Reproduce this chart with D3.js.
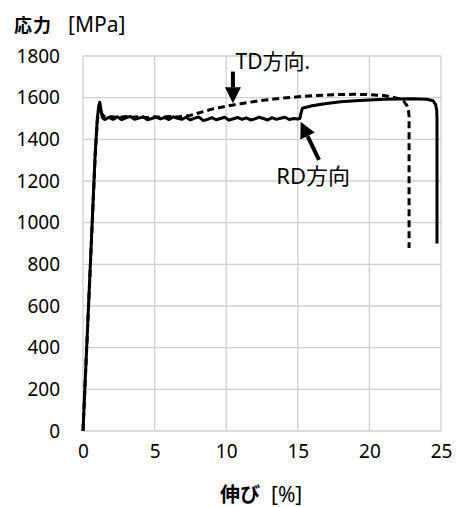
<!DOCTYPE html>
<html><head><meta charset="utf-8">
<script src="https://cdn.jsdelivr.net/npm/d3@7"></script>
<style>
html,body{margin:0;padding:0;background:#fff;}
svg{display:block;font-family:"Noto Sans","Noto Sans CJK JP",sans-serif;}
</style></head>
<body>
<svg id="chart" width="457" height="507"></svg>
<script>
const xTicks = [0, 5, 10, 15, 20, 25];
const yTicks = [0, 200, 400, 600, 800, 1000, 1200, 1400, 1600, 1800];
const yTitleMain = "応力";
const yTitleUnit = "[MPa]";
const xTitleMain = "伸び";
const xTitleUnit = "[%]";
const tdLabel = "TD方向.";
const rdLabel = "RD方向";

// RD direction (solid line): [strain %, stress MPa]
const rdRise = [[0,0],[0.5,780],[0.85,1330],[1.0,1500],[1.1,1560],[1.17,1578],[1.25,1545],[1.35,1505],[1.5,1495]];
const rdPlateauStrain = [1.8,2.1,2.4,2.7,3.0,3.3,3.6,3.9,4.2,4.5,4.8,5.1,5.4,5.7,6.0,6.3,6.6,6.9,7.2,7.5,7.8,8.1,8.4,8.7,9.0,9.3,9.6,9.9,10.2,10.5,10.8,11.1,11.4,11.7,12.0,12.3,12.6,12.9,13.2,13.5,13.8,14.1,14.4,14.7,15.0];
const rdPlateauStress = [1505,1496,1508,1494,1503,1510,1496,1502,1508,1494,1500,1507,1498,1505,1495,1508,1501,1496,1506,1493,1502,1507,1490,1496,1504,1494,1500,1506,1492,1499,1505,1496,1503,1493,1498,1506,1500,1493,1504,1496,1501,1506,1495,1500,1498];
const rdHardening = [[15.15,1500],[15.22,1525],[15.32,1549],[16,1561],[17,1572],[18,1580],[19,1585],[20,1589],[21,1592],[22,1594],[23,1595],[24,1592],[24.45,1585],[24.62,1568],[24.7,1540],[24.72,1500],[24.72,900]];

// TD direction (dashed line)
const tdRise = [[0,0],[0.5,770],[0.85,1320],[1.0,1490],[1.1,1540],[1.2,1556],[1.3,1525],[1.45,1510]];
const tdPlateauStrain = [2.0,2.5,3.0,3.5,4.0,4.5,5.0,5.5,6.0,6.5,7.0,7.5];
const tdPlateauStress = [1508,1505,1510,1506,1509,1504,1508,1506,1510,1507,1510,1515];
const tdHardening = [[8,1525],[8.5,1535],[9,1545],[9.5,1552],[10,1559],[10.5,1565],[11,1571],[12,1582],[13,1591],[14,1598],[15,1604],[16,1609],[17,1613],[18,1615],[19,1616],[20,1615],[21,1610],[21.6,1603],[22.1,1594],[22.4,1582],[22.6,1565],[22.72,1545],[22.77,1510],[22.77,878]];

// annotation arrows in data units: [tail, tip]
const tdArrow = [[10.47,1725],[10.47,1573]];
const rdArrow = [[16.48,1301],[15.2,1485]];
const tdLabelPos = [10.65,1738];
const rdLabelPos = [13.5,1186];

const rdData = rdRise.concat(rdPlateauStrain.map((s,i)=>[s,rdPlateauStress[i]]), rdHardening);
const tdData = tdRise.concat(tdPlateauStrain.map((s,i)=>[s,tdPlateauStress[i]]), tdHardening);

const svg = d3.select("#chart");
const x = d3.scaleLinear().domain([0,25]).range([83,441]);
const y = d3.scaleLinear().domain([0,1800]).range([431,56]);

// grid
const grid = svg.append("g");
grid.selectAll(".gx").data(xTicks).join("line")
  .attr("x1",d=>x(d)).attr("x2",d=>x(d)).attr("y1",y(0)).attr("y2",y(1800))
  .attr("stroke","#d0d0d0").attr("stroke-width",1.3);
grid.selectAll(".gy").data(yTicks).join("line")
  .attr("y1",d=>y(d)).attr("y2",d=>y(d)).attr("x1",x(0)).attr("x2",x(25))
  .attr("stroke","#d0d0d0").attr("stroke-width",1.3);

// axes (labels only)
const xAxis = svg.append("g").attr("transform",`translate(0,${y(0)})`)
  .call(d3.axisBottom(x).tickValues(xTicks).tickSize(0).tickPadding(14).tickFormat(d3.format("d")));
xAxis.select(".domain").remove();
xAxis.selectAll("text").attr("font-size",19).attr("fill","#000").attr("font-family","Noto Sans, sans-serif");

const yAxis = svg.append("g").attr("transform",`translate(${x(0)},0)`)
  .call(d3.axisLeft(y).tickValues(yTicks).tickSize(0).tickPadding(23).tickFormat(d3.format("d")));
yAxis.select(".domain").remove();
yAxis.selectAll("text").attr("font-size",19).attr("fill","#000").attr("font-family","Noto Sans, sans-serif");

const line = d3.line().x(d=>x(d[0])).y(d=>y(d[1])).curve(d3.curveLinear);

svg.append("path").datum(tdData).attr("d",line).attr("fill","none")
  .attr("stroke","#000").attr("stroke-width",3).attr("stroke-dasharray","7,4");
svg.append("path").datum(rdData).attr("d",line).attr("fill","none")
  .attr("stroke","#000").attr("stroke-width",3).attr("stroke-linejoin","round");

// arrows
function drawArrow(a){
  const x1=x(a[0][0]), y1=y(a[0][1]), x2=x(a[1][0]), y2=y(a[1][1]);
  const ang=Math.atan2(y2-y1,x2-x1);
  const hl=16, hw=8;
  const bx=x2-hl*Math.cos(ang), by=y2-hl*Math.sin(ang);
  svg.append("line").attr("x1",x1).attr("y1",y1).attr("x2",bx).attr("y2",by)
    .attr("stroke","#000").attr("stroke-width",4);
  const px=-Math.sin(ang), py=Math.cos(ang);
  svg.append("path").attr("d",`M${x2},${y2}L${bx+hw*px},${by+hw*py}L${bx-hw*px},${by-hw*py}Z`).attr("fill","#000");
}
drawArrow(tdArrow);
drawArrow(rdArrow);

svg.append("text").attr("x",x(tdLabelPos[0])).attr("y",y(tdLabelPos[1]))
  .attr("font-size",21).attr("fill","#000").text(tdLabel);
svg.append("text").attr("x",x(rdLabelPos[0])).attr("y",y(rdLabelPos[1]))
  .attr("font-size",22).attr("fill","#000").text(rdLabel);

// titles
svg.append("text").attr("x",14).attr("y",32).attr("font-size",18).attr("font-weight",700)
  .attr("letter-spacing",1).attr("fill","#000").text(yTitleMain);
svg.append("text").attr("x",68).attr("y",32).attr("font-size",21).attr("fill","#000").text(yTitleUnit);
svg.append("text").attr("x",220).attr("y",502).attr("font-size",20).attr("font-weight",700)
  .attr("fill","#000").text(xTitleMain);
svg.append("text").attr("x",271).attr("y",502).attr("font-size",21).attr("fill","#000").text(xTitleUnit);
</script>
</body></html>
